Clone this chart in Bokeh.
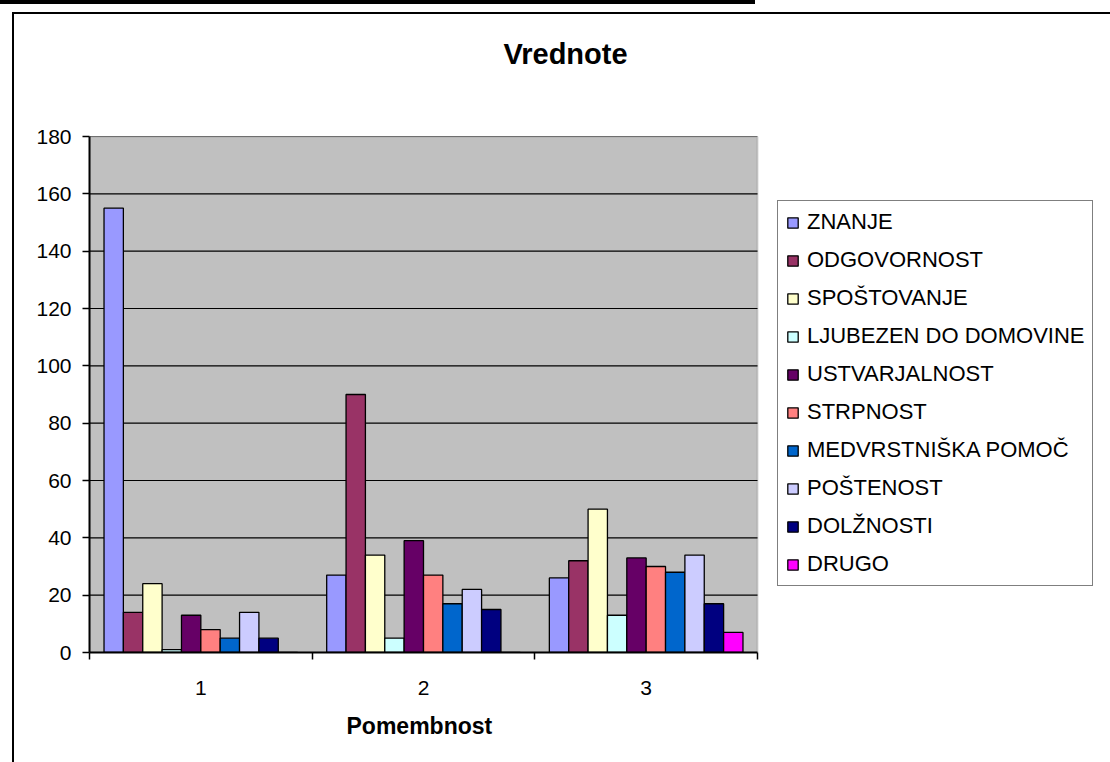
from bokeh.plotting import figure
from bokeh.models import (Range1d, FixedTicker, Legend, LegendItem, ColumnDataSource,
                          InlineStyleSheet, BoxAnnotation, Title)
from bokeh.transform import dodge
from bokeh.embed import file_html
from bokeh.resources import INLINE

# ---- data ----
groups = ["1", "2", "3"]
series = ["ZNANJE", "ODGOVORNOST", "SPOŠTOVANJE", "LJUBEZEN DO DOMOVINE", "USTVARJALNOST",
          "STRPNOST", "MEDVRSTNIŠKA POMOČ", "POŠTENOST", "DOLŽNOSTI", "DRUGO"]
znanje = [155, 27, 26]
odgovornost = [14, 90, 32]
spostovanje = [24, 34, 50]
ljubezen = [1, 5, 13]
ustvarjalnost = [13, 39, 33]
strpnost = [8, 27, 30]
medvrstniska = [5, 17, 28]
postenost = [14, 22, 34]
dolznosti = [5, 15, 17]
drugo = [0, 0, 7]
y_ticks = [0, 20, 40, 60, 80, 100, 120, 140, 160, 180]

values = [znanje, odgovornost, spostovanje, ljubezen, ustvarjalnost,
          strpnost, medvrstniska, postenost, dolznosti, drugo]
colors = ["#9999FF", "#993366", "#FFFFCC", "#CCFFFF", "#660066",
          "#FF8080", "#0066CC", "#CCCCFF", "#000080", "#FF00FF"]

FONT = "Liberation Sans"

xpos = [i + 1 for i in range(len(groups))]
data = {"x": xpos}
for i, v in enumerate(values):
    data["s%d" % i] = v
src = ColumnDataSource(data)

css = InlineStyleSheet(css="""
:host { position: relative; overflow: visible; }
:host::after { content: ""; position: absolute; left: 12px; top: 12px; right: -20px; bottom: -20px;
               border: 2px solid black; pointer-events: none; z-index: 10; }
:host::before { content: ""; position: absolute; left: 0px; top: 0px; width: 755px; height: 4px;
                background: black; pointer-events: none; z-index: 10; }
""")

# layout: plot area spans groups 0.5..3.5 over 668 px; the frame continues to the right
# so that the legend (drawn inside the frame) is not clipped
W, H = 1102, 758
ML, MT, MB, MR = 89, 136, 106, 0
x0 = 0.5
x1 = len(groups) + 0.5
px_per_unit = 668.0 / (x1 - x0)
x_end = x0 + (W - ML - MR) / px_per_unit

p = figure(width=W, height=H, output_backend="svg", toolbar_location=None,
           x_range=Range1d(x0, x_end), y_range=Range1d(0, 180),
           min_border_left=ML, min_border_right=MR, min_border_top=MT,
           min_border_bottom=MB, stylesheets=[css])
p.background_fill_color = "white"
p.border_fill_color = "white"
p.outline_line_color = None

# plot area
p.add_layout(BoxAnnotation(left=x0, right=x1, bottom=0, top=180,
                           fill_color="#C0C0C0", fill_alpha=1,
                           line_color="#808080", line_width=2, level="underlay"))
# horizontal grid lines
gy = y_ticks[1:]
p.segment(x0=[x0] * len(gy), x1=[x1] * len(gy), y0=gy, y1=gy,
          line_color="black", line_width=1.2)

n = len(series)
w = 1.0 / (n + 1.5)
items = []
for i, name in enumerate(series):
    off = (i - (n - 1) / 2.0) * w
    r = p.vbar(x=dodge("x", off, range=p.x_range), top="s%d" % i, width=w, bottom=0,
               source=src, fill_color=colors[i], line_color="black", line_width=1.3)
    items.append(LegendItem(label=name, renderers=[r]))

p.xgrid.visible = False
p.ygrid.visible = False

# y axis
p.yaxis.ticker = FixedTicker(ticks=y_ticks, minor_ticks=[])
p.yaxis.major_tick_out = 7
p.yaxis.major_tick_in = 0
p.yaxis.major_tick_line_width = 1.5
p.yaxis.axis_line_width = 2
p.yaxis.axis_line_color = "black"
p.yaxis.major_label_standoff = 11
p.yaxis.major_label_text_font = FONT
p.yaxis.major_label_text_font_size = "21px"
p.yaxis.major_label_text_color = "black"

# x axis
p.xaxis.bounds = (x0, x1)
p.xaxis.ticker = FixedTicker(ticks=xpos, minor_ticks=[x0 + k for k in range(len(groups) + 1)])
p.xaxis.major_label_overrides = {x: g for x, g in zip(xpos, groups)}
p.xaxis.major_tick_out = 0
p.xaxis.major_tick_in = 0
p.xaxis.minor_tick_out = 7
p.xaxis.minor_tick_in = 0
p.xaxis.minor_tick_line_width = 1.5
p.xaxis.minor_tick_line_color = "black"
p.xaxis.axis_line_width = 2
p.xaxis.axis_line_color = "black"
p.xaxis.major_label_standoff = 21
p.xaxis.major_label_text_font = FONT
p.xaxis.major_label_text_font_size = "21px"
p.xaxis.major_label_text_color = "black"

# x axis title, centred under the plot area
p.add_layout(Title(text="Pomembnost", align="left", offset=257, standoff=26,
                   text_font=FONT, text_font_size="23px", text_font_style="bold",
                   text_color="black"), "below")

# chart title (outermost) with a thin spacer between it and the frame
p.add_layout(Title(text=" ", text_font_size="1px", standoff=64), "above")
p.title.text = "Vrednote"
p.title.align = "left"
p.title.offset = 414
p.title.standoff = 0
p.title.text_font = FONT
p.title.text_font_size = "29px"
p.title.text_font_style = "bold"
p.title.text_color = "black"

# legend
legend = Legend(items=items, location=(688, 66))
legend.label_text_font = FONT
legend.label_text_font_size = "22px"
legend.label_text_color = "black"
legend.glyph_width = 13
legend.glyph_height = 13
legend.label_height = 25
legend.spacing = 12
legend.padding = 8
legend.label_standoff = 8
legend.border_line_color = "black"
legend.border_line_width = 1.5
legend.background_fill_color = "white"
legend.background_fill_alpha = 1
p.add_layout(legend, "center")

open("out.html", "w").write(file_html(p, INLINE))
